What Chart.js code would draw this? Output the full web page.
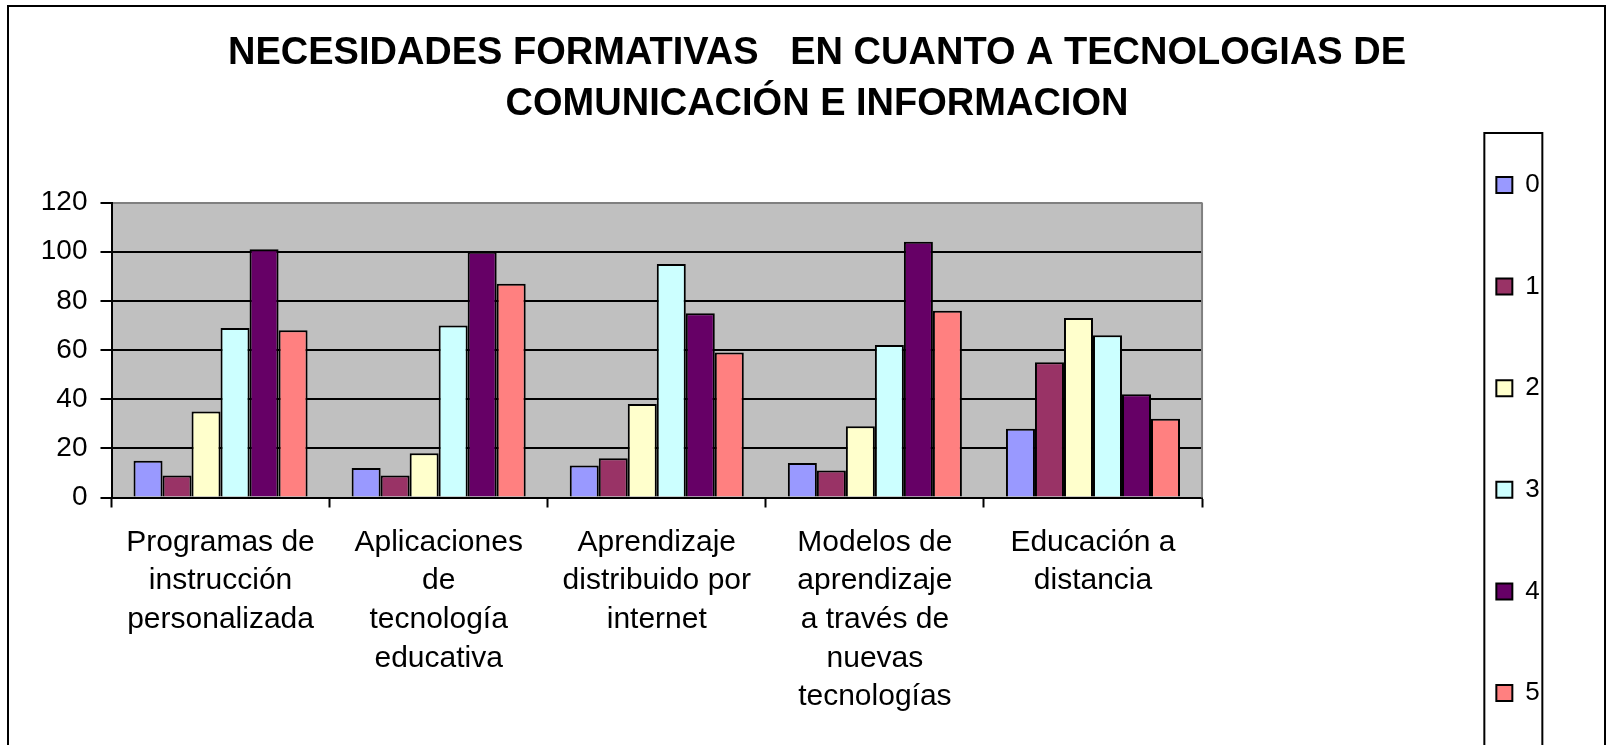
<!DOCTYPE html>
<html>
<head>
<meta charset="utf-8">
<script src="https://cdn.jsdelivr.net/npm/chart.js@4"></script>
<style>
html,body{margin:0;padding:0;background:#fff;overflow:hidden;}
canvas{display:block;}
</style>
</head>
<body>
<canvas id="c" width="1610" height="745"></canvas>
<script>
const titleLines = ["NECESIDADES FORMATIVAS   EN CUANTO A TECNOLOGIAS DE", "COMUNICACIÓN E INFORMACION"];
const categories = [
  ["Programas de", "instrucción", "personalizada"],
  ["Aplicaciones", "de", "tecnología", "educativa"],
  ["Aprendizaje", "distribuido por", "internet"],
  ["Modelos de", "aprendizaje", "a través de", "nuevas", "tecnologías"],
  ["Educación a", "distancia"]
];
const seriesNames = ["0", "1", "2", "3", "4", "5"];
const serie0 = [15, 12, 13, 14, 28];
const serie1 = [9, 9, 16, 11, 55];
const serie2 = [35, 18, 38, 29, 73];
const serie3 = [69, 70, 95, 62, 66];
const serie4 = [101, 100, 75, 104, 42];
const serie5 = [68, 87, 59, 76, 32];
const yTicks = [0, 20, 40, 60, 80, 100, 120];

const seriesValues = [serie0, serie1, serie2, serie3, serie4, serie5];
const seriesColors = ["#9999FF", "#993366", "#FFFFCC", "#CCFFFF", "#660066", "#FF8080"];
const FONT = "'Liberation Sans', Arial, sans-serif";

const framePlugin = {
  id: 'frame',
  afterLayout(chart) {
    // let the y tick labels extend to the left of the padded area without clipping
    const y = chart.scales.y;
    if (y) { y.left = 12; }
  },
  beforeDraw(chart) {
    const {ctx, chartArea: a} = chart;
    ctx.save();
    ctx.fillStyle = '#C0C0C0';
    ctx.fillRect(a.left, a.top, a.right - a.left, a.bottom - a.top);
    ctx.restore();
  },
  afterDraw(chart) {
    const {ctx, chartArea: a} = chart;
    ctx.save();
    ctx.strokeStyle = '#808080';
    ctx.lineWidth = 2;
    ctx.beginPath();
    ctx.moveTo(a.right, a.top);
    ctx.lineTo(a.right, a.bottom);
    ctx.stroke();
    ctx.strokeStyle = '#000';
    ctx.lineWidth = 2;
    ctx.strokeRect(8, 6, 1597, 800);
    const hb = chart.legend && chart.legend.legendHitBoxes && chart.legend.legendHitBoxes[0];
    if (hb) {
      ctx.strokeRect(hb.left - 12, 133, 58, 700);
    }
    ctx.restore();
  }
};

new Chart(document.getElementById('c'), {
  type: 'bar',
  data: {
    labels: categories,
    datasets: seriesNames.map((name, i) => ({
      label: name,
      data: seriesValues[i],
      backgroundColor: seriesColors[i],
      borderColor: '#000',
      borderWidth: 2,
      yAxisID: 'y',
      xAxisID: 'x'
    }))
  },
  options: {
    responsive: false,
    animation: false,
    devicePixelRatio: 1,
    events: [],
    datasets: { bar: { barPercentage: 1.0, categoryPercentage: 0.798 } },
    layout: { padding: { left: 84.2, right: 60.2, top: 0, bottom: -60 } },
    plugins: {
      tooltip: { enabled: false },
      title: {
        display: true,
        text: titleLines,
        color: '#000',
        font: { family: FONT, size: 38, weight: 'bold', lineHeight: 51 / 38 },
        padding: { top: 28.5, bottom: 72 }
      },
      legend: {
        display: true,
        position: 'right',
        align: 'start',
        title: { display: true, text: '', font: { size: 10, lineHeight: 1 }, padding: { top: 86.4, bottom: 0 } },
        labels: {
          color: '#000',
          font: { family: FONT, size: 26 },
          boxWidth: 16,
          boxHeight: 16,
          padding: 75.6
        }
      }
    },
    scales: {
      x: {
        type: 'category',
        position: 'bottom',
        offset: true,
        afterFit: s => { s.height = 307.5; },
        grid: { display: true, drawOnChartArea: false, drawTicks: true, tickLength: 10, tickColor: '#000', tickWidth: 2, offset: true },
        border: { display: true, color: '#000', width: 2 },
        ticks: {
          color: '#000',
          font: { family: FONT, size: 30, lineHeight: 38.7 / 30 },
          padding: 15.5,
          maxRotation: 0,
          autoSkip: false
        }
      },
      y: {
        type: 'linear',
        position: 'left',
        min: 0,
        max: 120,
        afterFit: s => { s.width = 27.3; },
        afterBuildTicks: s => { s.ticks = yTicks.map(v => ({ value: v })); },
        grid: {
          color: c => (c.tick && c.tick.value === 120) ? '#808080' : '#000',
          lineWidth: 2,
          drawTicks: true,
          tickLength: 11,
          tickColor: '#000',
          tickWidth: 2
        },
        border: { display: true, color: '#000', width: 2 },
        ticks: {
          color: '#000',
          font: { family: FONT, size: 28 },
          padding: 13
        }
      },
      pad: {
        type: 'linear',
        position: 'right',
        display: true,
        afterFit: s => { s.width = 218.7; },
        grid: { display: false, drawTicks: false },
        border: { display: false },
        ticks: { display: false }
      }
    }
  },
  plugins: [framePlugin]
});
</script>
</body>
</html>
